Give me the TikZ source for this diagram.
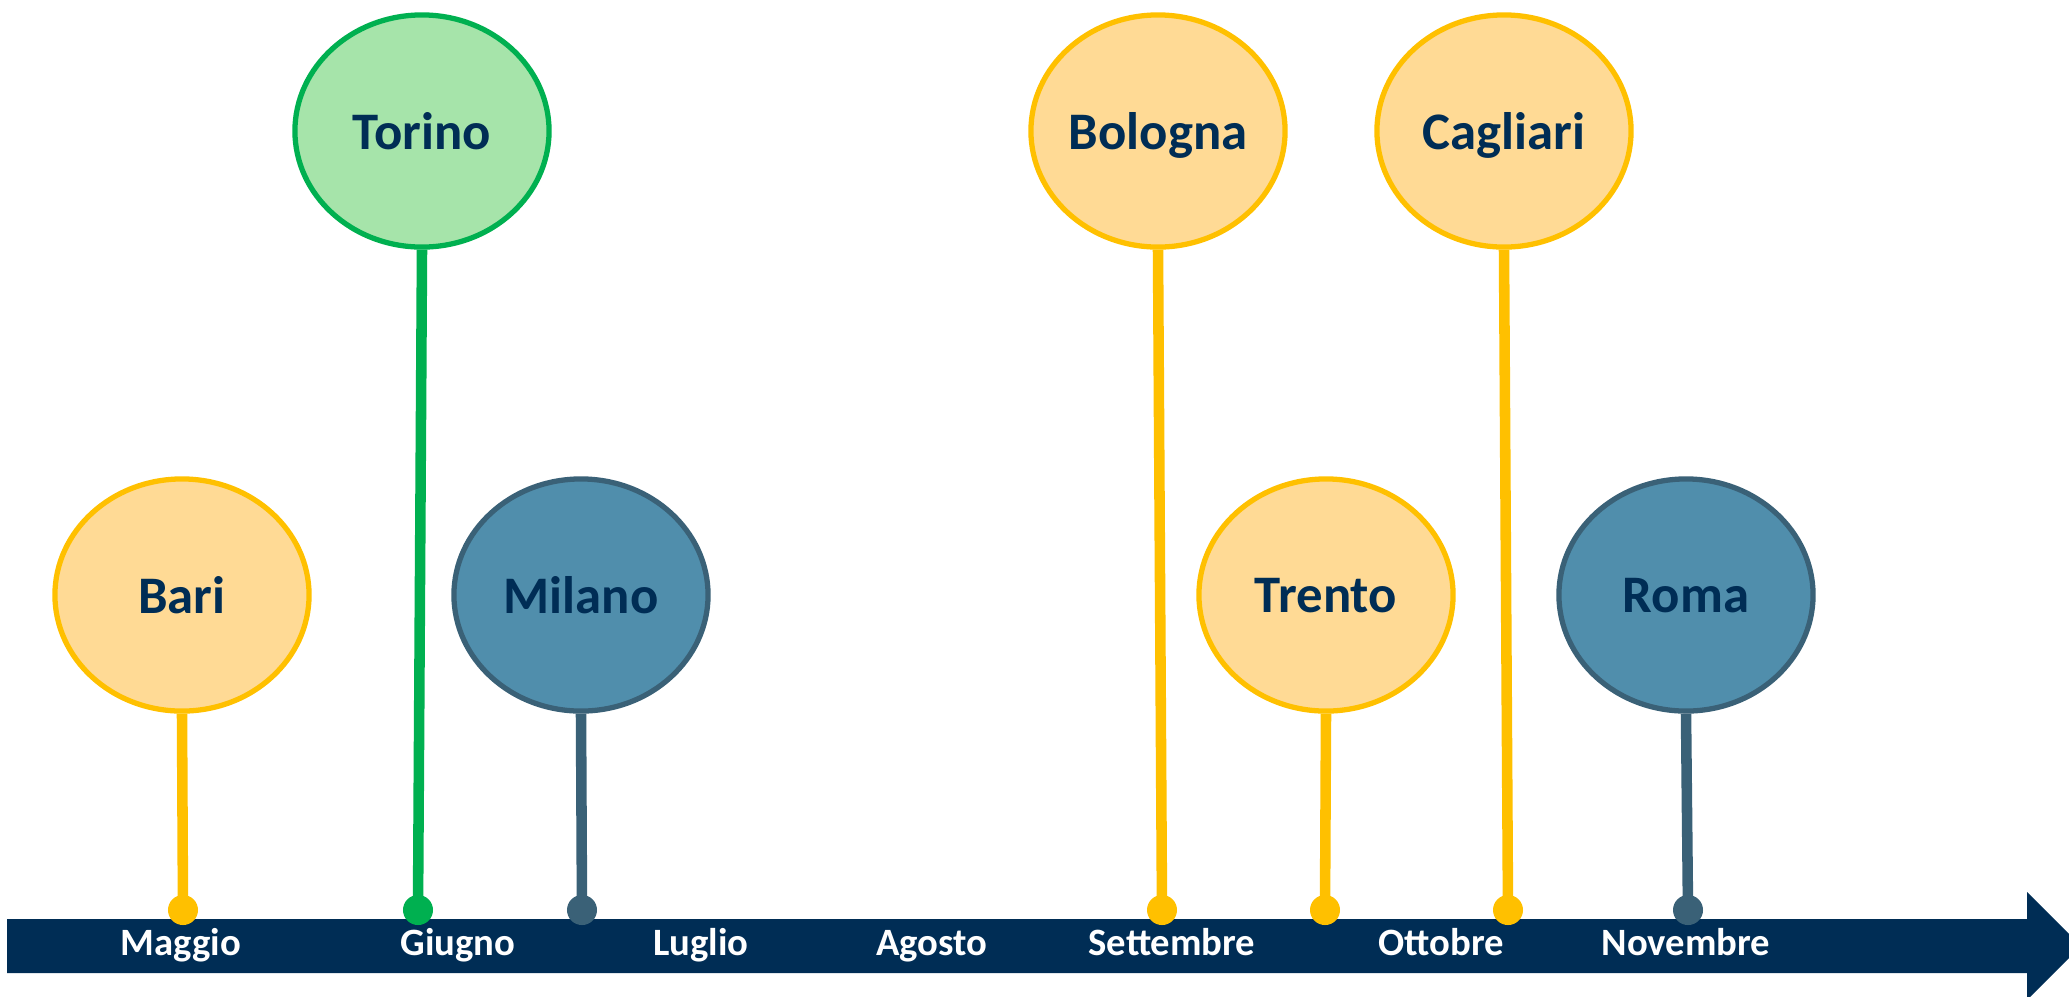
\documentclass[tikz,border=0pt]{standalone}
\usepackage{fontspec}
\usepackage[table]{xcolor}
\usepackage{tikz}
\usetikzlibrary{shapes.geometric}
\newfontfamily\cityfont{Carlito}
\newfontfamily\monthfont{Carlito}
\definecolor{navy}{HTML}{002D55}
\definecolor{gold}{HTML}{FFC000}
\definecolor{goldfill}{HTML}{FFDA95}
\definecolor{grn}{HTML}{00B050}
\definecolor{grnfill}{HTML}{A6E4AA}
\definecolor{slate}{HTML}{3A6177}
\definecolor{slatefill}{HTML}{508EAC}
\begin{document}
\begin{tikzpicture}[x=0.01cm, y=-0.01cm,
	city/.style={ellipse, draw=#1, fill=#1fill, line width=1.5pt, inner sep=0pt, minimum width=2.54cm, minimum height=2.32cm, text=navy, text depth=0pt, font=\cityfont\bfseries\fontsize{15}{18}\selectfont},
	pin/.style={circle, fill=#1, inner sep=0pt, minimum size=0.3cm},
	stem/.style={draw=#1, line width=3pt},
	month/.style={text=white, anchor=base, font=\monthfont\bfseries\fontsize{11}{13}\selectfont}]
\useasboundingbox (0,0) rectangle (2069,996);
% time bar
\fill[navy] (7,919) -- (2027,919) -- (2027,892) -- (2081,946) -- (2027,1000) -- (2027,973) -- (7,973) -- cycle;
\node [month] (m1) at (181,955) {Maggio};
\node [month] (m2) at (458,955) {Giugno};
\node [month] (m3) at (701,955) {Luglio};
\node [month] (m4) at (932,955) {Agosto};
\node [month] (m5) at (1172,955) {Settembre};
\node [month] (m6) at (1441,955) {Ottobre};
\node [month] (m7) at (1686,955) {Novembre};
% cities
\node [city=gold] (bari) at (182,595) {Bari};
\node [city=grn] (torino) at (422,131) {Torino};
\node [city=slate] (milano) at (581,595) {Milano};
\node [city=gold] (bologna) at (1158,131) {Bologna};
\node [city=gold] (trento) at (1326,595) {Trento};
\node [city=gold] (cagliari) at (1504,131) {Cagliari};
\node [city=slate] (roma) at (1686,595) {Roma};
% pins on the bar
\node [pin=gold] (p1) at (183,910) {};
\node [pin=grn] (p2) at (418,910) {};
\node [pin=slate] (p3) at (582,910) {};
\node [pin=gold] (p4) at (1162,910) {};
\node [pin=gold] (p5) at (1325,910) {};
\node [pin=gold] (p6) at (1508,910) {};
\node [pin=slate] (p7) at (1688,910) {};
\draw [stem=gold] (bari.south) -- (p1.center);
\draw [stem=grn] (torino.south) -- (p2.center);
\draw [stem=slate] (milano.south) -- (p3.center);
\draw [stem=gold] (bologna.south) -- (p4.center);
\draw [stem=gold] (trento.south) -- (p5.center);
\draw [stem=gold] (cagliari.south) -- (p6.center);
\draw [stem=slate] (roma.south) -- (p7.center);
\end{tikzpicture}
\end{document}
